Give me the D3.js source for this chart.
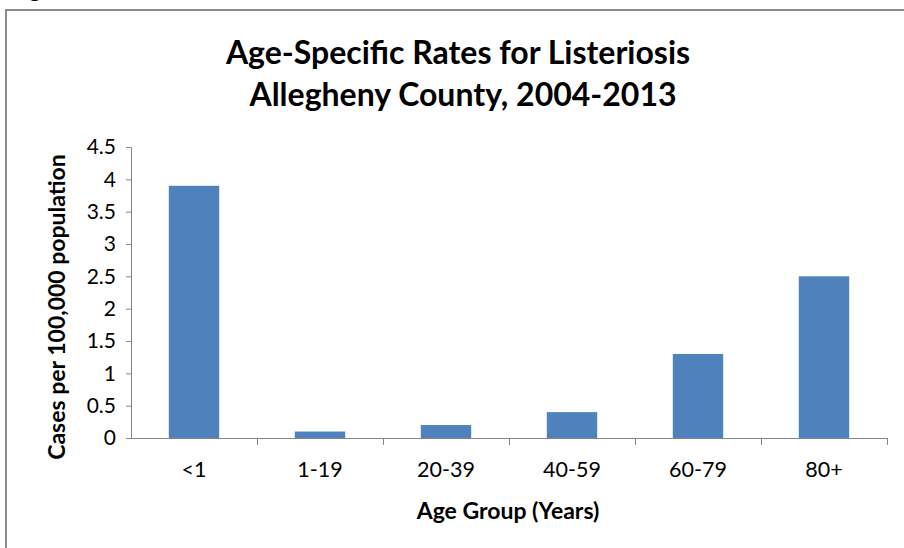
<!DOCTYPE html>
<html>
<head>
<meta charset="utf-8">
<script src="https://cdnjs.cloudflare.com/ajax/libs/d3/7.8.5/d3.min.js"></script>
<style>
  body { margin: 0; background: #fff; }
  svg { display: block; font-family: Lato, "Open Sans", sans-serif; }
</style>
</head>
<body>
<svg></svg>
<script>
// age groups and rates per 100,000
var ageGroups = ['<1', '1-19', '20-39', '40-59', '60-79', '80+']
var rates = [3.9, 0.1, 0.2, 0.4, 1.3, 2.5]
var yTicks = [0, 0.5, 1, 1.5, 2, 2.5, 3, 3.5, 4, 4.5]

var width = 904
var height = 548
var plotLeft = 131, plotRight = 887, plotTop = 147, plotBottom = 438

var data = ageGroups.map((g, i) => ({ group: g, rate: rates[i] }))

var svg = d3.select('svg')
            .attr('width', width)
            .attr('height', height)

// chart frame
svg.append('path')
   .attr('d', 'M6,' + height + ' V10 H' + width)
   .attr('fill', 'none')
   .attr('stroke', '#8c8c8c')
   .attr('stroke-width', 2)

// text cut off above the frame
svg.append('text')
   .attr('x', 29)
   .attr('y', -3)
   .style('font-size', '22px')
   .style('font-weight', 'bold')
   .text('g')

var xScale = d3.scaleBand()
               .domain(ageGroups)
               .range([plotLeft, plotRight])
               .paddingInner(0.6)
               .paddingOuter(0.3)

var xBoundary = d3.scaleLinear()
                  .domain([0, ageGroups.length])
                  .range([plotLeft, plotRight])

var yScale = d3.scaleLinear()
               .domain([0, 4.5])
               .range([plotBottom, plotTop])

// bars
svg.selectAll('rect')
   .data(data)
   .enter()
   .append('rect')
     .attr('x', d => xScale(d.group))
     .attr('y', d => yScale(d.rate))
     .attr('width', xScale.bandwidth())
     .attr('height', d => plotBottom - yScale(d.rate))
     .attr('fill', '#4f81bd')

// y axis
var yAxis = svg.append('g')
   .attr('transform', 'translate(' + plotLeft + ',0)')
   .call(d3.axisLeft(yScale)
           .tickValues(yTicks)
           .tickSize(5)
           .tickPadding(10)
           .tickFormat(d3.format('')))
yAxis.select('.domain').attr('stroke', '#868686')
yAxis.selectAll('line').attr('stroke', '#868686')
yAxis.selectAll('text')
     .style('font-size', '21px')
     .style('font-family', 'Lato, sans-serif')
     .attr('fill', '#000')

// x axis, ticks on category boundaries
var xAxis = svg.append('g')
   .attr('transform', 'translate(0,' + plotBottom + ')')
   .call(d3.axisBottom(xBoundary)
           .tickValues(d3.range(1, ageGroups.length + 1))
           .tickSize(7)
           .tickFormat(''))
xAxis.select('.domain').attr('d', 'M' + plotLeft + ',0.5H' + plotRight).attr('stroke', '#868686')
xAxis.selectAll('line').attr('stroke', '#868686')

svg.append('g')
   .selectAll('text')
   .data(ageGroups)
   .enter()
   .append('text')
     .attr('x', d => xScale(d) + xScale.bandwidth() / 2)
     .attr('y', 477)
     .attr('text-anchor', 'middle')
     .style('font-size', '21.5px')
     .text(d => d)

// titles
svg.append('text')
   .attr('x', 458)
   .attr('y', 64)
   .attr('text-anchor', 'middle')
   .style('font-size', '32px')
   .style('font-weight', 'bold')
   .text('Age-Specific Rates for Listeriosis')

svg.append('text')
   .attr('x', 463)
   .attr('y', 106)
   .attr('text-anchor', 'middle')
   .style('font-size', '32px')
   .style('font-weight', 'bold')
   .text('Allegheny County, 2004-2013')

svg.append('text')
   .attr('x', 508)
   .attr('y', 519)
   .attr('text-anchor', 'middle')
   .style('font-size', '23px')
   .style('font-weight', 'bold')
   .text('Age Group  (Years)')

svg.append('text')
   .attr('transform', 'rotate(-90)')
   .attr('x', -307)
   .attr('y', 65)
   .attr('text-anchor', 'middle')
   .style('font-size', '23px')
   .style('font-weight', 'bold')
   .text('Cases per 100,000 population')
</script>
</body>
</html>
